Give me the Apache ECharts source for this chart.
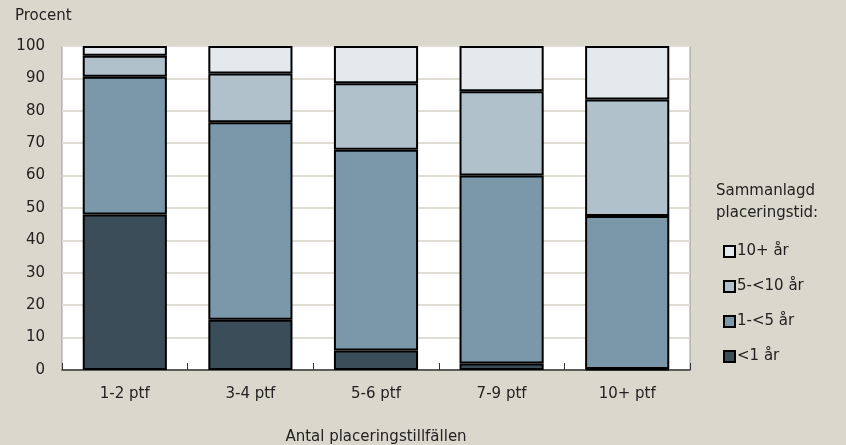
<!DOCTYPE html>
<html>
<head>
<meta charset="utf-8">
<script src="https://cdn.jsdelivr.net/npm/echarts@6/dist/echarts.min.js"></script>
<style>
  html, body { margin: 0; padding: 0; background: #dad8cc; }
  #chart { width: 846px; height: 445px; }
</style>
</head>
<body>
<div id="chart"></div>
<script>
// kategorier (antal placeringstillfällen)
var categories = ["1-2 ptf", "3-4 ptf", "5-6 ptf", "7-9 ptf", "10+ ptf"];
// andel i procent per sammanlagd placeringstid
var under1 = [48, 15.5, 6, 2, 0.3];
var from1to5 = [42.5, 61, 62, 58, 47.2];
var from5to10 = [6.5, 15, 20.5, 26, 36];
var over10 = [3, 8.5, 11.5, 14, 16.5];
var yTicks = [0, 10, 20, 30, 40, 50, 60, 70, 80, 90, 100];

var font = "'DejaVu Sans', sans-serif";
var chart = echarts.init(document.getElementById("chart"));

function bar(name, data, color) {
  return {
    name: name,
    type: "bar",
    stack: "total",
    data: data,
    barWidth: "67%",
    itemStyle: { color: color, borderColor: "#000", borderWidth: 2 },
  };
}

chart.setOption({
  backgroundColor: "#dad8cc",
  animation: false,
  textStyle: { fontFamily: font, color: "#222" },
  graphic: [
    {
      type: "text",
      left: 15,
      top: 9,
      style: { text: "Procent", font: "15px " + font, fill: "#222" },
    },
    {
      type: "text",
      left: 716,
      top: 180,
      style: {
        text: "Sammanlagd\nplaceringstid:",
        font: "15px " + font,
        lineHeight: 22,
        fill: "#222",
      },
    },
  ],
  grid: {
    left: 62,
    right: 156,
    top: 46,
    bottom: 75,
    outerBoundsMode: "none",
    show: true,
    backgroundColor: "#fff",
    borderColor: "#999",
    borderWidth: 1,
  },
  legend: {
    orient: "vertical",
    left: 718,
    top: 239,
    itemWidth: 11,
    itemHeight: 11,
    itemGap: 20,
    icon: "rect",
    data: ["10+ år", "5-<10 år", "1-<5 år", "<1 år"],
    itemStyle: { borderColor: "#000", borderWidth: 2 },
    textStyle: { fontSize: 15, fontFamily: font, color: "#222", padding: [0, 0, 0, -3] },
  },
  xAxis: {
    type: "category",
    data: categories,
    name: "Antal placeringstillfällen",
    nameLocation: "middle",
    nameGap: 60,
    nameTextStyle: { fontSize: 15, fontFamily: font, color: "#222" },
    axisLine: { lineStyle: { color: "#333", width: 1.5 } },
    axisTick: { show: true, inside: true, length: 7, lineStyle: { color: "#333" } },
    axisLabel: { fontSize: 15, margin: 17, color: "#222" },
  },
  yAxis: {
    type: "value",
    min: 0,
    max: 100,
    interval: 10,
    axisLine: { show: false },
    axisTick: { show: false },
    axisLabel: {
      fontSize: 15,
      margin: 17,
      color: "#222",
      formatter: function (v) {
        return yTicks.indexOf(v) >= 0 ? String(v) : "";
      },
    },
    splitLine: { lineStyle: { color: "#e0ddd4", width: 2 } },
  },
  series: [
    bar("<1 år", under1, "#3b4d59"),
    bar("1-<5 år", from1to5, "#7b98aa"),
    bar("5-<10 år", from5to10, "#b0c1cb"),
    bar("10+ år", over10, "#e4e9ed"),
  ],
});
</script>
</body>
</html>
